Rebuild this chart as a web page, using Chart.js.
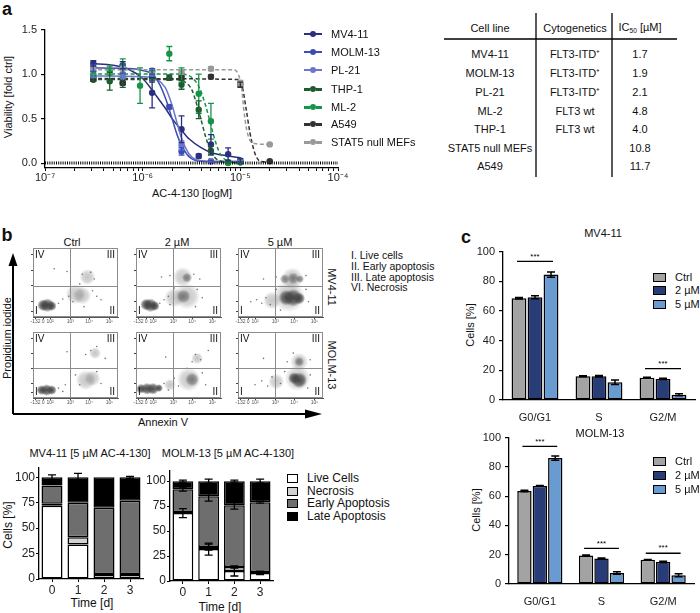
<!DOCTYPE html>
<html>
<head>
<meta charset="utf-8">
<script src="https://cdn.jsdelivr.net/npm/chart.js@4.4.1/dist/chart.umd.min.js"></script>
<style>
  body { margin: 0; background: #fff; font-family: "Liberation Sans", Arial, sans-serif; color: #111; }
  #fig { position: relative; width: 700px; height: 613px; overflow: hidden; }
  canvas { position: absolute; }
  .t { position: absolute; white-space: nowrap; line-height: 1; }
  .t sub { font-size: 0.6em; vertical-align: -0.25em; }
  .sw { position: absolute; box-sizing: border-box; border: 1.5px solid #000; }
</style>
</head>
<body>
<div id="fig">
  <svg style="position:absolute;left:0;top:0" width="700" height="613">
    <!-- table rules -->
    <line x1="444" y1="39" x2="677" y2="39" stroke="#000" stroke-width="1.5"/>
    <line x1="536" y1="13" x2="536" y2="177" stroke="#000" stroke-width="1.3"/>
    <line x1="612" y1="13" x2="612" y2="177" stroke="#000" stroke-width="1.3"/>
    <!-- flow axes arrows -->
    <line x1="13" y1="414" x2="13" y2="262" stroke="#000" stroke-width="2"/>
    <polygon points="13,253 8.5,266 17.5,266" fill="#000"/>
    <line x1="13" y1="414" x2="306" y2="414" stroke="#000" stroke-width="2"/>
    <polygon points="322,414 305,409.5 305,418.5" fill="#000"/>
  </svg>
</div>
<script>
// ---------- panel a: viability vs AC-4-130 (doses in µM) ----------
const mv411Dose = [0.3125, 0.625, 1.25, 2.5, 3.75, 5, 7.5, 10];
const mv411Via  = [1.12, 1.10, 0.79, 0.38, 0.08, 0.21, 0.10, 0.03];
const mv411Err  = [0.03, 0.04, 0.17, 0.15, 0.02, 0.11, 0.07, 0.02];
const mv411FitDose = [0.3, 0.5, 0.7, 1.0, 1.25, 1.5, 1.75, 2.0, 2.5, 3.0, 4.0, 5.0, 7.5, 10];
const mv411FitVia  = [1.12, 1.10, 1.06, 0.95, 0.82, 0.70, 0.60, 0.50, 0.37, 0.27, 0.17, 0.12, 0.08, 0.06];

const molm13Dose = [0.3125, 0.625, 1.25, 1.875, 2.5, 5];
const molm13Via  = [1.07, 1.06, 1.03, 0.63, 0.13, 0.02];
const molm13Err  = [0.04, 0.05, 0.03, 0.02, 0.04, 0.01];
const molm13FitDose = [0.3, 0.8, 1.0, 1.25, 1.5, 1.75, 2.0, 2.25, 2.5, 3.0, 4.0, 10];
const molm13FitVia  = [1.07, 1.06, 1.04, 1.0, 0.88, 0.70, 0.50, 0.32, 0.20, 0.07, 0.02, 0.01];

const pl21Dose = [0.3125, 0.625, 1.25, 2.5, 5, 10];
const pl21Via  = [0.98, 0.98, 0.95, 0.20, 0.02, 0.02];
const pl21Err  = [0.02, 0.03, 0.03, 0.05, 0.01, 0.01];
const pl21FitDose = [0.3, 1.0, 1.4, 1.7, 2.0, 2.25, 2.5, 3.0, 3.5, 5, 10];
const pl21FitVia  = [0.98, 0.97, 0.94, 0.85, 0.65, 0.45, 0.28, 0.10, 0.04, 0.02, 0.02];

const thp1Dose = [0.3125, 0.46, 0.625, 1.25, 1.875, 2.5, 3.75, 5, 7.5, 10];
const thp1Via  = [0.94, 0.92, 0.90, 0.94, 0.96, 0.88, 0.60, 0.14, 0.01, 0.01];
const thp1Err  = [0.02, 0.10, 0.05, 0.03, 0.03, 0.05, 0.10, 0.05, 0.01, 0.01];
const thp1FitDose = [0.3, 2.0, 2.8, 3.2, 3.6, 4.0, 4.4, 5.0, 6.0, 10];
const thp1FitVia  = [0.94, 0.94, 0.90, 0.82, 0.65, 0.47, 0.30, 0.13, 0.03, 0.0];

const ml2Dose = [0.3125, 0.46, 0.625, 0.94, 1.25, 1.875, 2.5, 3.75, 5, 7.5, 10];
const ml2Via  = [1.00, 1.04, 1.09, 0.87, 0.99, 1.23, 0.99, 0.78, 0.47, 0.00, 0.01];
const ml2Err  = [0.03, 0.05, 0.08, 0.20, 0.05, 0.08, 0.08, 0.22, 0.20, 0.01, 0.01];
const ml2FitDose = [0.3, 2.5, 3.2, 3.8, 4.4, 4.8, 5.3, 6.0, 7.0, 10];
const ml2FitVia  = [1.0, 1.0, 0.96, 0.85, 0.65, 0.50, 0.32, 0.14, 0.04, 0.0];

const a549Dose = [0.3125, 0.625, 1.25, 2.5, 5, 10, 20];
const a549Via  = [0.94, 0.90, 0.95, 0.96, 0.97, 0.88, 0.02];
const a549Err  = [0.02, 0.02, 0.02, 0.02, 0.02, 0.03, 0.01];
const a549FitDose = [0.3, 9.5, 10.5, 11.5, 12.5, 14, 16, 20];
const a549FitVia  = [0.95, 0.94, 0.85, 0.60, 0.35, 0.12, 0.02, 0.01];

const stat5Dose = [0.3125, 0.625, 1.25, 2.5, 5, 10, 20];
const stat5Via  = [1.06, 1.06, 1.04, 1.02, 1.06, 0.90, 0.21];
const stat5Err  = [0.02, 0.02, 0.02, 0.02, 0.02, 0.03, 0.01];
const stat5FitDose = [0.3, 8.5, 9.5, 10.3, 10.8, 11.5, 12.5, 14, 20];
const stat5FitVia  = [1.05, 1.05, 1.0, 0.85, 0.62, 0.40, 0.26, 0.22, 0.21];

const zeroLineX = [1e-7, 1e-4];
const aMajorTicks = [1e-7, 1e-6, 1e-5, 1e-4];
const aMajorLabels = ['10\u207B\u2077', '10\u207B\u2076', '10\u207B\u2075', '10\u207B\u2074'];
const aMinorSteps = [2, 3, 4, 5, 6, 7, 8, 9];
const aYTicks = [0, 0.5, 1.0, 1.5];

// table
const tableCellLines = ['MV4-11', 'MOLM-13', 'PL-21', 'ML-2', 'THP-1', 'STAT5 null MEFs', 'A549'];
const tableCyto = ['FLT3-ITD\u207A', 'FLT3-ITD\u207A', 'FLT3-ITD\u207A', 'FLT3 wt', 'FLT3 wt', '', ''];
const tableIC50 = ['1.7', '1.9', '2.1', '4.8', '4.0', '10.8', '11.7'];

// ---------- panel b: flow cytometry (plot units 0-100) ----------
const flowTitles = ['Ctrl', '2 \u00B5M', '5 \u00B5M'];
const flowRows = ['MV4-11', 'MOLM-13'];
const quadrantLabels = ['IV', 'III', 'I', 'II'];
const gateX = 43.5, gateY = 45;
const flowTickVals = [3, 12, 20, 44, 66, 90];
const flowTickLabels = ['-132', '0', '10\u00B2', '10\u00B3', '10\u2074', '10\u2075'];

const mvCtrlCore = [{x:12,y:17,r:6},{x:17,y:17,r:7},{x:22,y:16,r:5}];
const mvCtrlMid  = [];
const mvCtrlHalo = [{x:50,y:33,r:10},{x:58,y:31,r:9},{x:64,y:58,r:8}];
const mvCtrlDots = [{x:30,y:20},{x:35,y:26},{x:42,y:30},{x:47,y:22},{x:70,y:38},{x:75,y:30},{x:60,y:15},{x:55,y:48},{x:68,y:65},{x:58,y:62},{x:72,y:55},{x:25,y:70},{x:40,y:66},{x:80,y:25}];

const mv2Core = [{x:12,y:18,r:6},{x:17,y:17,r:7},{x:22,y:16,r:5}];
const mv2Mid  = [{x:56,y:30,r:7},{x:60,y:57,r:5}];
const mv2Halo = [{x:45,y:28,r:10},{x:60,y:30,r:13},{x:55,y:58,r:10}];
const mv2Dots = [{x:28,y:20},{x:33,y:25},{x:38,y:30},{x:40,y:18},{x:72,y:40},{x:78,y:28},{x:70,y:15},{x:45,y:42},{x:40,y:60},{x:68,y:62},{x:75,y:55},{x:30,y:58}];

const mv5Core = [{x:57,y:28,r:8},{x:65,y:28,r:9},{x:72,y:27,r:6}];
const mv5Mid  = [{x:55,y:55,r:5},{x:65,y:56,r:6},{x:73,y:55,r:4}];
const mv5Halo = [{x:60,y:30,r:16},{x:40,y:24,r:9},{x:64,y:56,r:11}];
const mv5Dots = [{x:15,y:22},{x:22,y:25},{x:28,y:20},{x:33,y:28},{x:38,y:18},{x:45,y:40},{x:80,y:40},{x:83,y:22},{x:45,y:58},{x:80,y:60},{x:50,y:10},{x:30,y:55}];

const molmCtrlCore = [{x:10,y:12,r:5},{x:16,y:12,r:6},{x:22,y:12,r:5}];
const molmCtrlMid  = [];
const molmCtrlHalo = [{x:62,y:27,r:10},{x:70,y:30,r:8},{x:73,y:68,r:6}];
const molmCtrlDots = [{x:30,y:15},{x:35,y:10},{x:38,y:20},{x:50,y:35},{x:55,y:20},{x:75,y:40},{x:80,y:22},{x:68,y:72},{x:75,y:78},{x:62,y:66},{x:40,y:70},{x:85,y:60}];

const molm2Core = [{x:6,y:14,r:5},{x:13,y:14,r:6},{x:20,y:14,r:6},{x:27,y:15,r:4}];
const molm2Mid  = [{x:66,y:28,r:7}];
const molm2Halo = [{x:62,y:28,r:12},{x:40,y:20,r:6},{x:72,y:60,r:6}];
const molm2Dots = [{x:33,y:22},{x:38,y:12},{x:45,y:30},{x:50,y:18},{x:78,y:38},{x:82,y:20},{x:60,y:45},{x:70,y:66},{x:76,y:58},{x:66,y:55},{x:35,y:62},{x:85,y:72}];

const molm5Core = [{x:72,y:27,r:8},{x:66,y:30,r:6}];
const molm5Mid  = [{x:72,y:55,r:5}];
const molm5Halo = [{x:70,y:30,r:13},{x:45,y:25,r:8},{x:72,y:55,r:9}];
const molm5Dots = [{x:20,y:20},{x:28,y:26},{x:35,y:18},{x:40,y:32},{x:50,y:22},{x:55,y:40},{x:85,y:35},{x:82,y:15},{x:58,y:55},{x:85,y:58},{x:65,y:68},{x:30,y:60}];

const flowLegend = ['I. Live cells', 'II. Early apoptosis', 'III. Late apoptosis', 'VI. Necrosis'];

// ---------- panel b: stacked time course ----------
const days = ['0', '1', '2', '3'];
const stackLabels = ['Live Cells', 'Necrosis', 'Early Apoptosis', 'Late Apoptosis'];
const stackTicks = [0, 25, 50, 75, 100];
const mvLive  = [72, 34, 4, 4];
const mvNecr  = [2, 7, 1, 1];
const mvEarly = [18, 34, 65, 72];
const mvLate  = [8, 25, 30, 23];
const mvLiveErr = [0, 0, 0, 0], mvNecrErr = [0, 0, 0, 0], mvEarlyErr = [0, 0, 0, 0];
const mvLateErr = [2.5, 4, 0, 1];
const molmLive  = [68, 32, 10, 8];
const molmNecr  = [1, 2, 4, 1];
const molmEarly = [23, 51, 62, 70];
const molmLate  = [8, 15, 24, 21];
const molmLiveErr = [4.5, 6, 5, 1.5], molmNecrErr = [0, 3, 1, 0.5];
const molmEarlyErr = [2, 5, 4, 1], molmLateErr = [1, 2, 1, 2];

// ---------- panel c: cell cycle ----------
const phases = ['G0/G1', 'S', 'G2/M'];
const treatments = ['Ctrl', '2 \u00B5M', '5 \u00B5M'];
const cTicks = [0, 20, 40, 60, 80, 100];
const mvCtrl = [68.5, 16, 15], mvCtrlErr = [0.5, 0.3, 0.3];
const mv2uM  = [69.3, 16, 14.2], mv2uMErr = [1, 0.5, 0.5];
const mv5uM  = [84.5, 12, 3.5], mv5uMErr = [1.8, 1.5, 0.7];
const mvSig = [{cat: 0, y: 93.4}, {cat: 2, y: 21.2}];
const molmCtrl = [63.5, 19.5, 16.5], molmCtrlErr = [0.5, 0.3, 0.3];
const molm2uM  = [67, 17.5, 15], molm2uMErr = [0.3, 0.3, 0.5];
const molm5uM  = [86, 7.5, 6], molm5uMErr = [1.5, 0.8, 1];
const molmSig = [{cat: 0, y: 94}, {cat: 1, y: 24.3}, {cat: 2, y: 21}];

// ================= helpers =================
const FONT = '"Liberation Sans", Arial, sans-serif';
Chart.defaults.font.family = FONT;
Chart.defaults.color = '#111';
Chart.defaults.animation = false;
Chart.defaults.plugins.legend.display = false;
Chart.defaults.plugins.tooltip.enabled = false;

const fig = document.getElementById('fig');

function addText(s, x, y, o) {
  o = o || {};
  const d = document.createElement('div');
  d.className = 't';
  d.innerHTML = s;
  d.style.fontSize = (o.size || 11) + 'px';
  if (o.bold) d.style.fontWeight = 'bold';
  d.style.left = x + 'px';
  d.style.top = y + 'px';
  const ax = o.left ? '0' : '-50%';
  d.style.transform = 'translate(' + ax + ',-50%)' + (o.rot ? ' rotate(' + o.rot + 'deg)' : '');
  fig.appendChild(d);
}

function swatch(x, y, w, h, color) {
  const d = document.createElement('div');
  d.className = 'sw';
  d.style.left = x + 'px'; d.style.top = y + 'px';
  d.style.width = w + 'px'; d.style.height = h + 'px';
  d.style.background = color;
  fig.appendChild(d);
}

// canvas placed so that the chart area lands on `area` (page coords)
function makeCanvas(area, m) {
  const cv = document.createElement('canvas');
  const w = area.r - area.l + m.l + m.r, h = area.b - area.t + m.t + m.b;
  cv.width = w; cv.height = h;
  cv.style.left = (area.l - m.l) + 'px';
  cv.style.top = (area.t - m.t) + 'px';
  cv.style.width = w + 'px'; cv.style.height = h + 'px';
  fig.appendChild(cv);
  return cv;
}

function layoutFor(m) {
  return { autoPadding: false, padding: { left: 0, top: m.t, right: m.r, bottom: 0 } };
}

const errorBars = {
  id: 'errorBars',
  afterDatasetsDraw(chart) {
    const ctx = chart.ctx;
    chart.data.datasets.forEach((ds, i) => {
      if (!ds.errors) return;
      const meta = chart.getDatasetMeta(i);
      const ys = chart.scales[meta.yAxisID];
      ctx.save();
      ctx.strokeStyle = ds.errorColor || ds.borderColor;
      ctx.lineWidth = ds.errorWidth || 1.3;
      meta.data.forEach((el, j) => {
        const e = ds.errors[j];
        if (!e) return;
        const v = ys.getValueForPixel(el.y);
        const yt = ys.getPixelForValue(v + e), yb = ys.getPixelForValue(v - e);
        const cw = ds.capHalf || 3;
        ctx.beginPath();
        ctx.moveTo(el.x, yt); ctx.lineTo(el.x, yb);
        ctx.moveTo(el.x - cw, yt); ctx.lineTo(el.x + cw, yt);
        ctx.moveTo(el.x - cw, yb); ctx.lineTo(el.x + cw, yb);
        ctx.stroke();
      });
      ctx.restore();
    });
  }
};

function blackAxis(extra) {
  return Object.assign({
    border: { display: true, color: '#000', width: 1.3 },
    grid: { display: true, drawOnChartArea: false, drawTicks: true, tickLength: 4, color: '#000', lineWidth: 1.2 }
  }, extra);
}

// ================= panel a =================
addText('a', 7, 9, { size: 18, bold: true });
addText('Viability [fold ctrl]', 8, 97, { rot: -90 });
addText('AC-4-130 [logM]', 192, 193);

const aNames = ['MV4-11', 'MOLM-13', 'PL-21', 'THP-1', 'ML-2', 'A549', 'STAT5 null MEFs'];
const aDose = [mv411Dose, molm13Dose, pl21Dose, thp1Dose, ml2Dose, a549Dose, stat5Dose];
const aVia = [mv411Via, molm13Via, pl21Via, thp1Via, ml2Via, a549Via, stat5Via];
const aErr = [mv411Err, molm13Err, pl21Err, thp1Err, ml2Err, a549Err, stat5Err];
const aFitDose = [mv411FitDose, molm13FitDose, pl21FitDose, thp1FitDose, ml2FitDose, a549FitDose, stat5FitDose];
const aFitVia = [mv411FitVia, molm13FitVia, pl21FitVia, thp1FitVia, ml2FitVia, a549FitVia, stat5FitVia];
const aColors = ['#2b2f7e', '#3d4db3', '#6c76cc', '#1f5c2e', '#169447', '#333333', '#999999'];
const aDashed = [false, false, false, true, true, true, true];

const aDatasets = [{
  type: 'scatter', showLine: true, data: zeroLineX.map(x => ({ x: x, y: 0 })),
  borderColor: '#000', borderWidth: 3, borderDash: [1, 1.2], pointRadius: 0
}];
for (let i = aNames.length - 1; i >= 0; i--) {
  aDatasets.push({
    type: 'scatter', showLine: true, label: aNames[i] + ' fit',
    data: aFitDose[i].map((d, k) => ({ x: d * 1e-6, y: aFitVia[i][k] })),
    borderColor: aColors[i], borderWidth: 1.5, borderDash: aDashed[i] ? [4, 2.5] : [],
    cubicInterpolationMode: 'monotone', pointRadius: 0
  });
  aDatasets.push({
    type: 'scatter', showLine: false, label: aNames[i],
    data: aDose[i].map((d, k) => ({ x: d * 1e-6, y: aVia[i][k] })),
    borderColor: aColors[i], backgroundColor: aColors[i], pointRadius: 3.2, pointBorderWidth: 0,
    errors: aErr[i], capHalf: 3
  });
}

const mA = { l: 45, t: 8, r: 14, b: 22 };
new Chart(makeCanvas({ l: 45, t: 27, r: 338, b: 168 }, mA), {
  type: 'scatter',
  data: { datasets: aDatasets },
  options: {
    responsive: false,
    layout: layoutFor(mA),
    scales: {
      x: blackAxis({
        type: 'logarithmic', min: 1e-7, max: 1e-4,
        afterFit: s => { s.height = mA.b; },
        afterBuildTicks: s => {
          const t = [];
          aMajorTicks.forEach((v, k) => {
            t.push({ value: v, major: true });
            if (k < aMajorTicks.length - 1) aMinorSteps.forEach(m => t.push({ value: v * m }));
          });
          s.ticks = t;
        },
        grid: { display: true, drawOnChartArea: false, drawTicks: true, tickLength: 3, color: '#000', lineWidth: 1 },
        ticks: {
          autoSkip: false, maxRotation: 0, padding: 0, font: { size: 11 }, color: '#222',
          callback: v => {
            const k = aMajorTicks.findIndex(t => Math.abs(t - v) / t < 1e-6);
            return k >= 0 ? aMajorLabels[k] : '';
          }
        }
      }),
      y: blackAxis({
        min: -0.055, max: 1.5,
        afterFit: s => { s.width = mA.l; },
        afterBuildTicks: s => { s.ticks = aYTicks.map(v => ({ value: v })); },
        ticks: { padding: 4, font: { size: 11 }, color: '#222', callback: v => v.toFixed(1) }
      })
    }
  },
  plugins: [errorBars]
});

// legend a
const aLegendY = [34, 52, 70, 89, 107, 124, 142];
aNames.forEach((n, i) => {
  const ln = document.createElement('div');
  ln.style.cssText = 'position:absolute;left:304px;width:18px;top:' + (aLegendY[i] - 1) + 'px;border-top:' +
    (aDashed[i] ? '3px dashed ' : '2px solid ') + aColors[i];
  fig.appendChild(ln);
  const dot = document.createElement('div');
  dot.style.cssText = 'position:absolute;left:310px;top:' + (aLegendY[i] - 3) + 'px;width:6px;height:6px;border-radius:50%;background:' + aColors[i];
  fig.appendChild(dot);
  addText(n, 331, aLegendY[i], { left: true });
});

// table
addText('Cell line', 490, 28);
addText('Cytogenetics', 575, 28);
addText('IC<sub>50</sub> [\u00B5M]', 640, 28);
const rowY = [54, 73, 92, 111, 129, 148, 166];
tableCellLines.forEach((s, i) => {
  addText(s, 490, rowY[i]);
  if (tableCyto[i]) addText(tableCyto[i], 575, rowY[i]);
  addText(tableIC50[i], 640, rowY[i]);
});

// ================= panel b: flow plots =================
addText('b', 7, 235, { size: 18, bold: true });
const colL = [33, 136, 238];
const rowT = [248, 332], rowB = [317, 398];
flowTitles.forEach((s, i) => addText(s, [72, 177, 280][i], 242));
addText(flowRows[0], 331, 287, { rot: 90 });
addText(flowRows[1], 331, 365, { rot: 90 });
addText('Propidium iodide', 7, 338, { rot: -90 });
addText('Annexin V', 163, 422);
flowLegend.forEach((s, i) => addText(s, 351, [255, 266, 277, 287][i], { left: true, size: 10.5 }));

function shade(alpha) {
  return function (c) {
    const base = 'rgba(65,65,65,';
    if (!c.raw || !c.chart.chartArea) return base + alpha + ')';
    const x = c.chart.scales.x.getPixelForValue(c.raw.x);
    const y = c.chart.scales.y.getPixelForValue(c.raw.y);
    const g = c.chart.ctx.createRadialGradient(x, y, 0, x, y, c.raw.r);
    g.addColorStop(0, base + alpha + ')');
    g.addColorStop(0.6, base + (alpha * 0.7) + ')');
    g.addColorStop(1, base + '0)');
    return g;
  };
}

const flowFrame = {
  id: 'flowFrame',
  afterDatasetsDraw(chart) {
    const { ctx, chartArea: a, scales } = chart;
    ctx.save();
    ctx.strokeStyle = '#8c8c8c';
    ctx.lineWidth = 1;
    ctx.strokeRect(a.left + 0.5, a.top + 0.5, a.width - 1, a.height - 1);
    const gx = Math.round(scales.x.getPixelForValue(gateX)) + 0.5;
    const gy = Math.round(scales.y.getPixelForValue(gateY)) + 0.5;
    ctx.beginPath();
    ctx.moveTo(gx, a.top); ctx.lineTo(gx, a.bottom);
    ctx.moveTo(a.left, gy); ctx.lineTo(a.right, gy);
    ctx.stroke();
    ctx.fillStyle = '#111';
    ctx.font = '10px ' + FONT;
    ctx.textBaseline = 'top';
    ctx.textAlign = 'left'; ctx.fillText(quadrantLabels[0], a.left + 2, a.top + 2);
    ctx.textAlign = 'right'; ctx.fillText(quadrantLabels[1], a.right - 3, a.top + 2);
    ctx.textBaseline = 'bottom';
    ctx.textAlign = 'left'; ctx.fillText(quadrantLabels[2], a.left + 2, a.bottom - 1);
    ctx.textAlign = 'right'; ctx.fillText(quadrantLabels[3], a.right - 3, a.bottom - 1);
    ctx.restore();
  }
};

function flowChart(area, halo, mid, core, dots) {
  const m = { l: 4, t: 1, r: 2, b: 9 };
  new Chart(makeCanvas(area, m), {
    type: 'bubble',
    data: {
      datasets: [
        { data: halo, backgroundColor: shade(0.3), borderWidth: 0, clip: 0 },
        { data: mid, backgroundColor: shade(0.6), borderWidth: 0, clip: 0 },
        { data: core, backgroundColor: shade(0.95), borderWidth: 0, clip: 0 },
        { type: 'scatter', data: dots, pointRadius: 0.8, backgroundColor: '#777', borderWidth: 0 }
      ]
    },
    options: {
      responsive: false,
      layout: layoutFor(m),
      scales: {
        x: {
          min: 0, max: 100,
          afterFit: s => { s.height = m.b; },
          afterBuildTicks: s => { s.ticks = flowTickVals.map(v => ({ value: v })); },
          border: { display: true, color: '#555', width: 1 },
          grid: { display: true, drawOnChartArea: false, drawTicks: true, tickLength: 2, color: '#444' },
          ticks: {
            autoSkip: false, maxRotation: 0, padding: 0, font: { size: 5 }, color: '#555',
            callback: (v, i) => flowTickLabels[i]
          }
        },
        y: {
          min: 0, max: 100,
          afterFit: s => { s.width = m.l; },
          afterBuildTicks: s => { s.ticks = [8, 22, 45, 68, 90].map(v => ({ value: v })); },
          border: { display: true, color: '#555', width: 1 },
          grid: { display: true, drawOnChartArea: false, drawTicks: true, tickLength: 2, color: '#444' },
          ticks: { display: false }
        }
      }
    },
    plugins: [flowFrame]
  });
}

flowChart({ l: colL[0], t: rowT[0], r: colL[0] + 85, b: rowB[0] }, mvCtrlHalo, mvCtrlMid, mvCtrlCore, mvCtrlDots);
flowChart({ l: colL[1], t: rowT[0], r: colL[1] + 85, b: rowB[0] }, mv2Halo, mv2Mid, mv2Core, mv2Dots);
flowChart({ l: colL[2], t: rowT[0], r: colL[2] + 85, b: rowB[0] }, mv5Halo, mv5Mid, mv5Core, mv5Dots);
flowChart({ l: colL[0], t: rowT[1], r: colL[0] + 85, b: rowB[1] }, molmCtrlHalo, molmCtrlMid, molmCtrlCore, molmCtrlDots);
flowChart({ l: colL[1], t: rowT[1], r: colL[1] + 85, b: rowB[1] }, molm2Halo, molm2Mid, molm2Core, molm2Dots);
flowChart({ l: colL[2], t: rowT[1], r: colL[2] + 85, b: rowB[1] }, molm5Halo, molm5Mid, molm5Core, molm5Dots);

// ================= panel b: stacked bars =================
addText('MV4-11 [5 \u00B5M AC-4-130]', 90, 453);
addText('MOLM-13 [5 \u00B5M AC-4-130]', 228, 453);
addText('Cells [%]', 8, 525, { rot: -90, size: 12 });
addText('Time [d]', 92, 603, { size: 12 });
addText('Time [d]', 220, 607, { size: 12 });
const stackColors = ['#ffffff', '#d2d2d2', '#6e6e6e', '#000000'];
stackLabels.forEach((s, i) => {
  const y = [478, 491, 503, 516][i];
  swatch(287, y - 4, 11, 9, stackColors[i]);
  addText(s, 307, y, { left: true, size: 12 });
});

function stackedChart(area, ymax, series, errs) {
  const m = { l: 39, t: 8, r: 4, b: 30 };
  new Chart(makeCanvas(area, m), {
    type: 'bar',
    data: {
      labels: days,
      datasets: series.map((d, i) => ({
        label: stackLabels[i], data: d, backgroundColor: stackColors[i],
        borderColor: '#000', borderWidth: 1.5, borderSkipped: false,
        categoryPercentage: 0.85, barPercentage: 0.95,
        errors: errs[i], errorColor: '#000', capHalf: 4
      }))
    },
    options: {
      responsive: false,
      layout: layoutFor(m),
      scales: {
        x: blackAxis({
          stacked: true,
          afterFit: s => { s.height = m.b; },
          grid: { display: true, drawOnChartArea: false, drawTicks: true, tickLength: 3, color: '#000', offset: false },
          ticks: { padding: 1, font: { size: 12 }, color: '#222' }
        }),
        y: blackAxis({
          stacked: true, min: 0, max: ymax,
          afterFit: s => { s.width = m.l; },
          afterBuildTicks: s => { s.ticks = stackTicks.map(v => ({ value: v })); },
          grid: { display: true, drawOnChartArea: false, drawTicks: true, tickLength: 3, color: '#000' },
          ticks: { padding: 1, font: { size: 12 }, color: '#222' }
        })
      }
    },
    plugins: [errorBars]
  });
}

stackedChart({ l: 39, t: 467, r: 143, b: 579 }, 110,
  [mvLive, mvNecr, mvEarly, mvLate], [mvLiveErr, mvNecrErr, mvEarlyErr, mvLateErr]);
stackedChart({ l: 170, t: 470, r: 273, b: 581 }, 111,
  [molmLive, molmNecr, molmEarly, molmLate], [molmLiveErr, molmNecrErr, molmEarlyErr, molmLateErr]);

// ================= panel c =================
addText('c', 466, 237, { size: 18, bold: true });
const cColors = ['#a3a3a3', '#283d78', '#6a9bd0'];

const sigPlugin = {
  id: 'sig',
  afterDatasetsDraw(chart) {
    const marks = chart.config.data.sigMarks || [];
    const ctx = chart.ctx, ys = chart.scales.y;
    const n = chart.data.datasets.length;
    ctx.save();
    ctx.strokeStyle = '#000'; ctx.lineWidth = 1.3;
    ctx.fillStyle = '#000'; ctx.font = '8px ' + FONT;
    ctx.textAlign = 'center'; ctx.textBaseline = 'bottom';
    marks.forEach(mk => {
      const a = chart.getDatasetMeta(0).data[mk.cat], b = chart.getDatasetMeta(n - 1).data[mk.cat];
      const y = ys.getPixelForValue(mk.y);
      ctx.beginPath(); ctx.moveTo(a.x - 2, y); ctx.lineTo(b.x + 2, y); ctx.stroke();
      ctx.fillText('***', (a.x + b.x) / 2, y - 1);
    });
    ctx.restore();
  }
};

function cycleChart(area, vals, errs, sig, title, titleX, titleY, labelY, legY) {
  addText(title, titleX, titleY);
  addText('Cells [%]', area.l - 33, labelY, { rot: -90 });
  treatments.forEach((s, i) => {
    swatch(653, legY[i] - 4, 13, 9, cColors[i]);
    addText(s, 675, legY[i], { left: true });
  });
  const m = { l: 40, t: 8, r: 6, b: 28 };
  new Chart(makeCanvas(area, m), {
    type: 'bar',
    data: {
      labels: phases,
      sigMarks: sig,
      datasets: vals.map((d, i) => ({
        label: treatments[i], data: d, backgroundColor: cColors[i],
        borderColor: '#000', borderWidth: 1.5, borderSkipped: false,
        categoryPercentage: 0.75, barPercentage: 0.93,
        errors: errs[i], errorColor: '#000', capHalf: 4, errorWidth: 1.5
      }))
    },
    options: {
      responsive: false,
      layout: layoutFor(m),
      scales: {
        x: blackAxis({
          afterFit: s => { s.height = m.b; },
          grid: { display: false },
          ticks: { padding: 3, font: { size: 11 }, color: '#222' }
        }),
        y: blackAxis({
          min: 0, max: 100,
          afterFit: s => { s.width = m.l; },
          afterBuildTicks: s => { s.ticks = cTicks.map(v => ({ value: v })); },
          ticks: { padding: 4, font: { size: 11 }, color: '#222' }
        })
      }
    },
    plugins: [errorBars, sigPlugin]
  });
}

cycleChart({ l: 503, t: 249, r: 695, b: 400 }, [mvCtrl, mv2uM, mv5uM], [mvCtrlErr, mv2uMErr, mv5uMErr],
  mvSig, 'MV4-11', 603, 233, 325, [277, 290, 304]);
cycleChart({ l: 509, t: 435, r: 694, b: 584 }, [molmCtrl, molm2uM, molm5uM], [molmCtrlErr, molm2uMErr, molm5uMErr],
  molmSig, 'MOLM-13', 600, 433, 510, [461, 475, 489]);
</script>
</body>
</html>
